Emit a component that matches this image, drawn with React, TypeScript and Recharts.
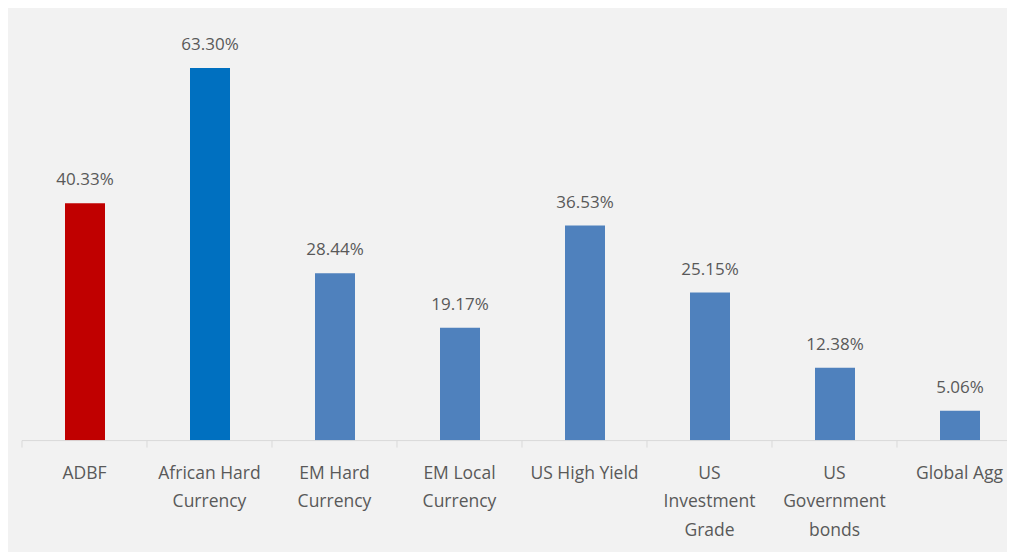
import { Bar, BarChart, Cell, LabelList, XAxis, YAxis } from 'recharts'

// 범주별 누적 수익률 비교 — 값은 그림에서 읽었다.
const categories = [
  'ADBF',
  'African Hard Currency',
  'EM Hard Currency',
  'EM Local Currency',
  'US High Yield',
  'US Investment Grade',
  'US Government bonds',
  'Global Agg',
]

const tickLines = [
  ['ADBF'],
  ['African Hard', 'Currency'],
  ['EM Hard', 'Currency'],
  ['EM Local', 'Currency'],
  ['US High Yield'],
  ['US', 'Investment', 'Grade'],
  ['US', 'Government', 'bonds'],
  ['Global Agg'],
]

const returns = [40.33, 63.3, 28.44, 19.17, 36.53, 25.15, 12.38, 5.06]

const barColors = ['#C00000', '#0070C0', '#4F81BD', '#4F81BD', '#4F81BD', '#4F81BD', '#4F81BD', '#4F81BD']

const data = categories.map((name, i) => ({ name, value: returns[i] }))

const CHART_W = 1020
const MARGIN_L = 14
const MARGIN_R = 6
const BAND = (CHART_W - MARGIN_L - MARGIN_R) / categories.length
const FONT = '"Open Sans", sans-serif'
const TEXT = '#595959'

function CategoryTick(props: any) {
  const { x, y, index } = props
  const lines = tickLines[index] ?? []
  return (
    <g>
      {/* 구분 눈금은 범주 사이 경계에 둔다 */}
      <line x1={x - BAND / 2} x2={x - BAND / 2} y1={y} y2={y + 7} stroke="#d9d9d9" />
      {lines.map((t, k) => (
        <text
          key={k}
          x={x}
          y={y + 38 + k * 28.5}
          textAnchor="middle"
          fontSize={17.5}
          fontFamily={FONT}
          fill={TEXT}
        >
          {t}
        </text>
      ))}
    </g>
  )
}

function ValueLabel(props: any) {
  const { x, y, width, value } = props
  return (
    <text
      x={x + width / 2}
      y={y - 18}
      textAnchor="middle"
      fontSize={17}
      fontFamily={FONT}
      fill={TEXT}
    >
      {`${Number(value).toFixed(2)}%`}
    </text>
  )
}

export default function App() {
  return (
    <div style={{ width: 1007, height: 544, background: '#f2f2f2', overflow: 'hidden' }}>
      <BarChart
        width={CHART_W}
        height={544}
        data={data}
        margin={{ top: 20.6, right: MARGIN_R, bottom: 0, left: MARGIN_L }}
      >
        <XAxis
          dataKey="name"
          interval={0}
          height={111.4}
          tickLine={false}
          tickSize={0}
          tickMargin={0}
          axisLine={{ stroke: '#d9d9d9' }}
          tick={<CategoryTick />}
        />
        <YAxis hide domain={[0, 70]} />
        <Bar dataKey="value" barSize={40} isAnimationActive={false}>
          {data.map((d, i) => (
            <Cell key={d.name} fill={barColors[i]} />
          ))}
          <LabelList dataKey="value" content={<ValueLabel />} />
        </Bar>
      </BarChart>
    </div>
  )
}
